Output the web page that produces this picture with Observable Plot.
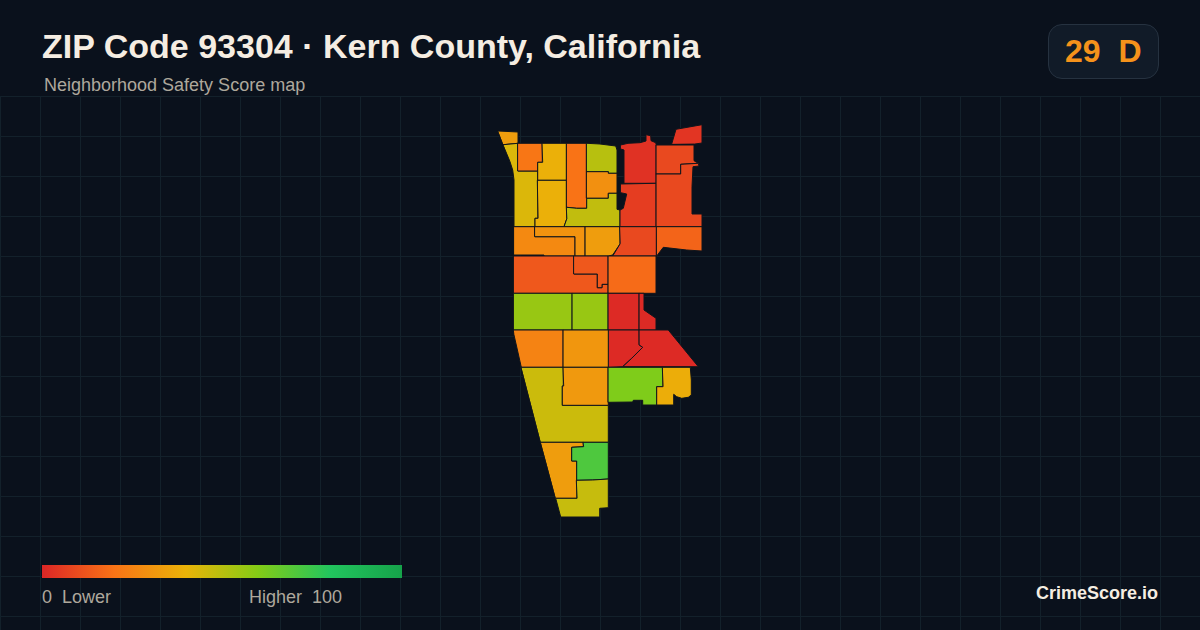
<!DOCTYPE html>
<html>
<head>
<meta charset="utf-8">
<script src="https://cdn.jsdelivr.net/npm/d3@7"></script>
<script src="https://cdn.jsdelivr.net/npm/@observablehq/plot@0.6"></script>
<style>
  html, body { margin: 0; padding: 0; background: #0a111c; }
  body { width: 1200px; height: 630px; position: relative; overflow: hidden; font-family: "Liberation Sans", Arial, sans-serif; }
  #chart { position: absolute; left: 0; top: 96px; }
  .t { position: absolute; white-space: pre; }
  #title { left: 42px; top: 26px; font-size: 34px; line-height: 40px; font-weight: 700; color: #f5ede2; }
  #subtitle { left: 44px; top: 74px; font-size: 18px; line-height: 22px; color: #aea89c; }
  #badge { position: absolute; left: 1048px; top: 24px; width: 109px; height: 53px; border: 1px solid #263240; border-radius: 14px; background: #111b28; }
  #score { left: 1065px; top: 33px; font-size: 32px; line-height: 36px; font-weight: 700; color: #f5921b; }
  #ramp { position: absolute; left: 42px; top: 565px; width: 360px; height: 13px; }
  .lab { top: 586px; font-size: 18px; line-height: 22px; color: #aea89c; }
  #brand { left: 1036px; top: 582px; font-size: 18px; line-height: 22px; font-weight: 700; color: #f5ede2; }
</style>
</head>
<body>
<div id="chart"></div>
<div class="t" id="title"></div>
<div class="t" id="subtitle"></div>
<div id="badge"></div>
<div class="t" id="score"></div>
<div id="ramp"></div>
<div class="t lab" id="lowLabel" style="left:42px"></div>
<div class="t lab" id="highLabel" style="left:249px"></div>
<div class="t" id="brand"></div>
<script>
const titleText = "ZIP Code 93304 · Kern County, California";
const subtitleText = "Neighborhood Safety Score map";
const badgeText = "29  D";
const lowText = "0  Lower";
const highText = "Higher  100";
const brandText = "CrimeScore.io";

const scoreStops = [0, 20, 40, 60, 80, 100];
const scoreColors = ["#dc2626", "#f97316", "#eab308", "#84cc16", "#22c55e", "#16a34a"];

// Neighborhood safety scores, one per tract, in the same order as tractRings
const tractScores = [
  33, 43, 21, 39, 39, 20, 50, 29, 48, 27, 30, 33,
  3, 6, 4, 9, 9, 16, 9,
  13, 13, 18, 56, 56, 1, 1, 1, 1, 25, 31,
  46, 32, 61, 38, 33, 71, 47
];

// Tract outlines in map units
const tractRings = [
  [[498,131],[518,132],[518,143.3],[503.3,144.7]],
  [[503.3,144.7],[518,143.3],[518,171],[537.7,171],[537.7,180.3],[537.7,218.3],[535,218.3],[535,226.7],[514,226.7],[514,180],[512.7,170],[510,161.7]],
  [[518,143.3],[542.3,143.3],[542.3,162.3],[537.7,162.3],[537.7,171],[518,171]],
  [[542.3,143.3],[566.7,143.3],[566.7,180.3],[537.7,180.3],[537.7,162.3],[542.3,162.3]],
  [[537.7,180.3],[566.7,180.3],[566.7,207.3],[566.7,219],[564,226.7],[535,226.7],[535,218.3],[537.7,218.3]],
  [[566.7,143.3],[586.7,143.3],[586.7,208.3],[576.7,208.3],[566.7,207.3]],
  [[586.7,143.3],[600,144],[615.7,146],[617,150],[617,173.3],[608.3,173.3],[608.3,171.7],[586.7,171.7]],
  [[586.7,171.7],[608.3,171.7],[608.3,173.3],[617,173.3],[617,193.3],[608.3,193.3],[608.3,198.3],[586.7,198.3]],
  [[566.7,207.3],[576.7,208.3],[586.7,208.3],[586.7,198.3],[608.3,198.3],[608.3,193.3],[617,193.3],[617,209.3],[620,210],[620,226.7],[564,226.7],[566.7,219]],
  [[514,226.7],[535,226.7],[535,236.7],[575,236.7],[575,256],[544,256],[544,255],[514,255]],
  [[535,226.7],[585.3,226.7],[585.3,256],[575,256],[575,236.7],[535,236.7]],
  [[585.3,226.7],[620,226.7],[620,244],[612.7,255],[608.3,256],[585.3,256]],

  [[620.7,145],[628,143.3],[640,142.7],[646,141],[646,134.7],[650.7,135.7],[651,140.7],[655.7,142.7],[656.3,145],[656.3,183.3],[624,183.3],[624,150],[620.7,149]],
  [[620.7,184],[656.3,183.3],[656.3,226.7],[620,226.7],[620,210],[623.3,208.3],[626.7,194],[620.7,192.7]],
  [[671.7,144],[676,129.3],[702,124.7],[702,143],[695,144]],
  [[656.3,145],[694,145],[694,160.7],[698.3,163.3],[680.7,164.3],[680.7,174],[656.3,174]],
  [[656.3,174],[680.7,174],[680.7,164.3],[698.3,163.3],[699,166],[693,166.7],[692,186.7],[692,214],[702,214],[702,226.7],[656.3,226.7]],
  [[656.3,226.7],[702,226.7],[702,251],[686.7,250],[663.3,247.3],[656.7,256]],
  [[620,226.7],[656.3,226.7],[656.3,256],[612.7,256],[620,244]],

  [[513.7,256],[574,256],[574,274],[597.3,274],[597.3,287.7],[602,287.7],[602,284.3],[608.3,284.3],[608.3,293.3],[513.7,293.3]],
  [[574,256],[608.3,256],[608.3,284.3],[602,284.3],[602,287.7],[597.3,287.7],[597.3,274],[574,274]],
  [[608.3,256],[656,256],[656,293.3],[608.3,293.3]],
  [[513.7,293.3],[572.3,293.3],[572.3,330],[513.7,330]],
  [[572.3,293.3],[608.3,293.3],[608.3,330],[572.3,330]],
  [[608.3,293.3],[639.3,293.3],[639.3,330],[608.3,330]],
  [[639.3,293.3],[644,293.3],[644,310],[656,318.3],[656,330],[639.3,330]],
  [[608.3,330],[639.3,330],[639.3,345],[642.7,347.3],[631.7,358.3],[622.7,366.7],[608.3,367.3]],
  [[639.3,330],[668.3,330],[698.3,366.7],[622.7,366.7],[631.7,358.3],[642.7,347.3],[639.3,345]],
  [[513.7,330],[563.3,330],[563.3,367.3],[521.3,367.3],[516.5,346],[514,335]],
  [[563.3,330],[608.3,330],[608.3,367.3],[563.3,367.3]],

  [[521.3,367.3],[563.3,367.3],[563.3,386],[562.3,386],[562.3,405.3],[608.3,405.3],[608.3,442.3],[540.7,442.3]],
  [[563.3,367.3],[608.3,367.3],[608.3,405.3],[562.3,405.3],[562.3,386],[563.3,386]],
  [[608.3,367.3],[662.7,367.3],[662.7,386.7],[656.7,386.7],[656.7,405],[642.7,405],[642.7,400.3],[633.3,400.3],[632.7,402],[608.3,402.3]],
  [[662.7,367.3],[690.3,367.3],[691.3,380],[691.3,395],[688.3,397.3],[681.7,398.3],[676.7,396.7],[673.7,394.3],[673.7,405],[656.7,405],[656.7,386.7],[662.7,386.7]],
  [[540.7,442.3],[583.3,442.3],[583.3,446.7],[571.7,447.3],[571.7,461],[576.7,461],[576.7,498.3],[555.7,498.3]],
  [[583.3,442.3],[608.3,442.3],[608.3,479],[592.7,480],[576.7,480.3],[576.7,461],[571.7,461],[571.7,447.3],[583.3,446.7]],
  [[576.7,480.3],[592.7,480],[608.3,479],[608.3,507.7],[599.7,508.3],[599.7,517],[560.7,517],[555.7,498.3],[576.7,498.3]]
];

const tracts = tractRings.map((ring, i) => ({
  type: "Feature",
  properties: {score: tractScores[i]},
  geometry: {type: "Polygon", coordinates: [[...ring, ring[0]]]}
}));

const gridXs = d3.range(0, 1201, 40);
const gridYs = d3.range(96, 631, 40);
const grid = {
  type: "MultiLineString",
  coordinates: [
    ...gridXs.map(x => [[x, 96], [x, 630]]),
    ...gridYs.map(y => [[0, y], [1200, y]])
  ]
};

const plot = Plot.plot({
  width: 1200,
  height: 534,
  margin: 0,
  style: {background: "transparent", overflow: "hidden"},
  projection: d3.geoIdentity().translate([0, -96]),
  color: {type: "linear", domain: scoreStops, range: scoreColors},
  marks: [
    Plot.geo(grid, {stroke: "#13212b", strokeWidth: 1}),
    Plot.geo(tracts, {fill: d => d.properties.score, stroke: "#10151c", strokeWidth: 1, dx: -0.5, dy: -0.5})
  ]
});
document.getElementById("chart").append(plot);

document.getElementById("title").textContent = titleText;
document.getElementById("subtitle").textContent = subtitleText;
document.getElementById("score").textContent = badgeText;
document.getElementById("lowLabel").textContent = lowText;
document.getElementById("highLabel").textContent = highText;
document.getElementById("brand").textContent = brandText;
document.getElementById("ramp").style.background =
  "linear-gradient(to right," + scoreStops.map((s, i) => `${scoreColors[i]} ${s}%`).join(",") + ")";
</script>
</body>
</html>
